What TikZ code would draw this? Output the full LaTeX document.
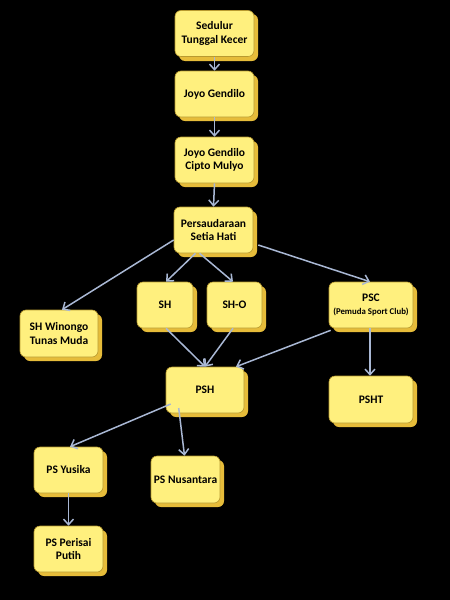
\documentclass[tikz,border=0pt]{standalone}
\usepackage{fontspec}
\setmainfont{Carlito}
\usetikzlibrary{arrows.meta}
\definecolor{boxfill}{HTML}{FFF07E}
\definecolor{boxedge}{HTML}{B89A30}
\definecolor{boxshadow}{HTML}{E6BC3A}
\definecolor{arrowcol}{HTML}{A9B8D4}
\tikzset{
  box/.style={draw=boxedge, line width=0.6pt, fill=boxfill, rounded corners=6pt,
    align=center, font=\bfseries\fontsize{11.5}{13.5}\selectfont, inner sep=0pt,
    minimum width=#1, minimum height=46pt},
  box/.default=79pt,
  sbox/.style={fill=boxshadow, rounded corners=6pt},
  arr/.style={draw=arrowcol, line width=1.5pt, -{Straight Barb[length=5.5pt,width=10pt,line width=1.5pt]}},
}
\begin{document}
\begin{tikzpicture}[x=1pt,y=-1pt]
\fill[black] (0,0) rectangle (450,600);
\useasboundingbox (0,0) rectangle (450,600);
% shadows
\foreach \a/\b/\c/\d in {175/10/254/57, 175/71/254/117, 175/137/254/183, 174/207/253/253,
  137/282/193/328, 207/282/262/328, 329/282/413/328, 20/310/98/357,
  166/367/244/413, 329/376/413/423, 34/447/103/493, 151/456/220/503, 34/526/103/572}
  {\fill[sbox] (\a+4,\b+4) rectangle (\c+4,\d+4);}
% nodes
\node[box=79pt] (sed) at (214.5,33.5) {Sedulur\\Tunggal Kecer};
\node[box=79pt] (joyo) at (214.5,94) {Joyo Gendilo};
\node[box=79pt] (jgcm) at (214.5,160) {Joyo Gendilo\\Cipto Mulyo};
\node[box=79pt] (psh0) at (213.5,230) {Persaudaraan\\Setia Hati};
\node[box=56pt] (sh) at (165,305) {SH};
\node[box=55pt] (sho) at (234.5,305) {SH-O};
\node[box=84pt] (psc) at (371,305) {PSC\\[-1pt]{\fontsize{8.8}{10}\selectfont(Pemuda Sport Club)}};
\node[box=78pt,minimum height=47pt] (win) at (59,333.5) {SH Winongo\\Tunas Muda};
\node[box=78pt] (psh) at (205,390) {PSH};
\node[box=84pt,minimum height=47pt] (psht) at (371,399.5) {PSHT};
\node[box=69pt] (yus) at (68.5,470) {PS Yusika};
\node[box=69pt,minimum height=47pt] (nus) at (185.5,479.5) {PS Nusantara};
\node[box=69pt] (per) at (68.5,549) {PS Perisai\\Putih};
% anchor points
\path (psh0.west) ++(0,10) coordinate (p0w);
\path (psh0.east) ++(5,15) coordinate (p0e);
\path (win.north) ++(3,0) coordinate (winn);
\path (psc.south west) ++(2,2) coordinate (pscsw);
\path (psh.west) ++(5,14) coordinate (pshy);
\path (psh.west) ++(13,18) coordinate (pshn);
% connectors
\draw[arr] (sed.south) -- (joyo.north);
\draw[arr] (joyo.south) -- (jgcm.north);
\draw[arr] (jgcm.south) -- (psh0.north);
\draw[arr] (p0w) -- (winn);
\draw[arr] ([xshift=-18pt]psh0.south) -- ([xshift=1pt]sh.north);
\draw[arr] ([xshift=-14pt]psh0.south) -- ([xshift=-1.5pt]sho.north);
\draw[arr] (p0e) -- ([xshift=-1pt]psc.north);
\draw[arr] ([xshift=1pt]sh.south) -- (psh.north);
\draw[arr] ([xshift=-1.5pt]sho.south) -- (psh.north);
\draw[arr] (pscsw) -- ([xshift=31pt]psh.north);
\draw[arr] ([xshift=-1pt]psc.south) -- ([xshift=-1pt]psht.north);
\draw[arr] (pshy) -- ([xshift=1.5pt]yus.north);
\draw[arr] (pshn) -- ([xshift=-1pt]nus.north);
\draw[arr] (yus.south) -- (per.north);
\end{tikzpicture}
\end{document}
